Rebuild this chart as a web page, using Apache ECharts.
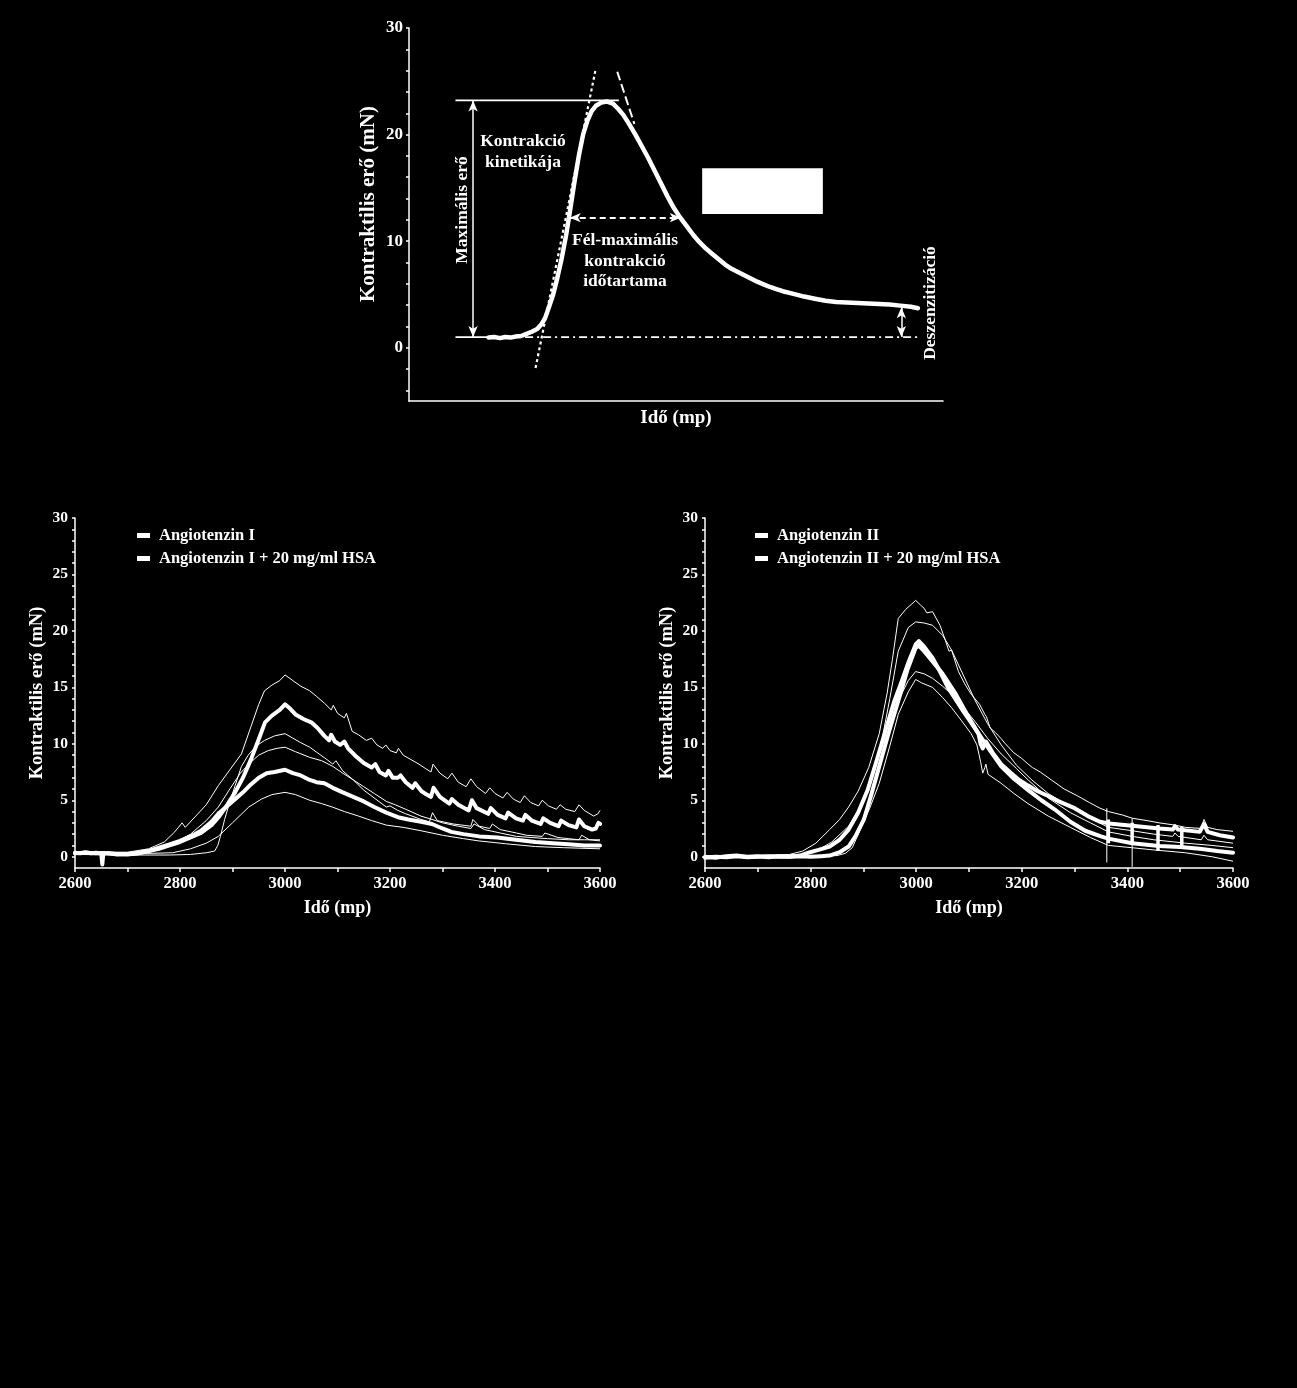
<!DOCTYPE html>
<html>
<head>
<meta charset="utf-8">
<script src="https://cdn.jsdelivr.net/npm/echarts@6/dist/echarts.min.js"></script>
<style>
html,body{margin:0;padding:0;background:#000;}
#c{width:1297px;height:1388px;}
</style>
</head>
<body>
<div id="c"></div>
<script>
// ---------------- DATA ----------------
// Top schematic curve (arbitrary time units 0..100, force in mN)
const topCurve = [[14.9,0.96],[16,1.0],[17,0.9],[18,1.0],[19,0.95],[20,1.05],[21,1.1],[22,1.3],[23,1.5],[24,1.75],[24.8,2.2],[25.5,2.8],[26.2,3.8],[27,5.0],[27.8,6.6],[28.6,8.4],[29.4,10.5],[30.2,13.0],[31,15.6],[31.8,18.0],[32.6,20.0],[33.4,21.3],[34.2,22.2],[35,22.7],[36,23.0],[37.1,23.1],[38.2,22.9],[39.2,22.4],[40.2,21.8],[41.2,21.0],[42.4,20.0],[43.6,18.9],[44.8,17.8],[46,16.6],[47.2,15.4],[48.4,14.2],[49.6,13.1],[50.8,12.2],[52,11.4],[53.2,10.6],[54.4,9.9],[55.6,9.3],[56.8,8.8],[58,8.3],[59.2,7.8],[60.4,7.4],[61.6,7.1],[62.8,6.8],[64,6.5],[65.2,6.2],[66.4,5.95],[67.6,5.7],[68.8,5.5],[70,5.3],[72,5.05],[74,4.8],[76,4.6],[78,4.4],[80,4.3],[82,4.25],[84,4.2],[86,4.15],[88,4.1],[90,4.05],[92,3.95],[94,3.85],[95.3,3.7]];
const topMaxLine = [[8.7,23.2],[39.3,23.2]];
const topBaseSolid = [[8.7,1.0],[15,1.0]];
const topBaseDashed = [[15,1.0],[95.3,1.0]];
const topRiseTangent = [[23.7,-1.9],[34.9,26.0]];
const topFallTangent = [[39.0,25.9],[42.2,21.0]];
const topMaxArrow = [[12.0,23.2],[12.0,1.0]];
const topHalfArrow = [[30.1,12.2],[50.9,12.2]];
const topDesensArrow = [[92.2,3.8],[92.2,1.0]];
const topBox = [[54.9,16.85],[77.5,12.55]];

// Tick values
const topYLabels = [0,10,20,30];
const topYTicks = [-4,-2,0,2,4,6,8,10,12,14,16,18,20,22,24,26,28,30];
const botYLabels = [0,5,10,15,20,25,30];
const botYTicks = [0,1,2,3,4,5,6,7,8,9,10,11,12,13,14,15,16,17,18,19,20,21,22,23,24,25,26,27,28,29,30];
const botXLabels = [2600,2800,3000,3200,3400,3600];
const botXTicks = [2600,2700,2800,2900,3000,3100,3200,3300,3400,3500,3600];

// Left panel: Angiotenzin I
const leftAng1Mean = [[2600,0.35],[2610,0.3],[2620,0.4],[2630,0.3],[2640,0.35],[2650,0.3],[2652,-0.7],[2654,0.3],[2665,0.3],[2680,0.2],[2700,0.25],[2720,0.3],[2740,0.5],[2760,0.7],[2780,1.0],[2800,1.3],[2820,1.7],[2840,2.1],[2860,2.8],[2875,3.6],[2890,4.6],[2905,5.7],[2920,7.0],[2935,8.6],[2950,10.4],[2962,11.9],[2975,12.5],[2990,13.0],[3000,13.5],[3010,13.1],[3020,12.6],[3035,12.2],[3050,11.9],[3062,11.4],[3075,10.7],[3084,10.3],[3088,10.8],[3095,10.2],[3105,9.9],[3113,10.2],[3120,9.6],[3135,8.9],[3150,8.3],[3165,7.9],[3172,8.2],[3180,7.5],[3192,7.2],[3197,7.6],[3205,7.0],[3215,7.0],[3220,7.2],[3230,6.6],[3243,6.1],[3248,6.5],[3260,5.8],[3270,5.5],[3278,5.3],[3283,6.1],[3295,5.3],[3313,4.7],[3318,5.1],[3330,4.6],[3350,4.1],[3356,5.0],[3365,4.3],[3387,3.8],[3392,4.3],[3405,3.7],[3420,3.4],[3425,3.9],[3440,3.4],[3453,3.2],[3458,3.7],[3470,3.2],[3487,2.9],[3492,3.4],[3505,3.0],[3521,2.7],[3526,3.2],[3540,2.8],[3555,2.6],[3560,3.3],[3570,2.7],[3585,2.4],[3592,2.5],[3597,3.0],[3600,2.9]];
const leftAng1Upper = [[2600,0.4],[2700,0.4],[2740,0.7],[2770,1.3],[2790,2.2],[2804,3.0],[2810,2.6],[2830,3.6],[2850,4.6],[2873,6.3],[2895,7.7],[2917,9.1],[2935,11.5],[2950,13.5],[2961,14.7],[2975,15.2],[2990,15.6],[3000,16.1],[3015,15.6],[3030,15.1],[3047,14.7],[3060,14.2],[3075,13.6],[3088,13.0],[3092,13.4],[3100,12.7],[3113,12.3],[3117,12.7],[3128,11.1],[3140,10.8],[3155,10.3],[3165,10.5],[3175,9.9],[3186,9.6],[3192,9.9],[3200,9.4],[3212,9.2],[3216,9.6],[3225,9.0],[3240,8.6],[3255,8.2],[3268,7.8],[3278,7.5],[3282,8.2],[3295,7.4],[3310,6.9],[3318,7.4],[3330,6.6],[3345,6.2],[3354,6.9],[3365,6.2],[3382,5.6],[3390,6.1],[3400,5.6],[3415,5.2],[3423,5.7],[3435,5.1],[3448,4.8],[3456,5.4],[3468,4.8],[3483,4.5],[3490,5.0],[3502,4.5],[3517,4.2],[3524,4.6],[3535,4.2],[3552,4.0],[3560,4.6],[3570,4.1],[3588,3.6],[3596,3.8],[3600,4.1]];
const leftAng1Lower = [[2600,0.2],[2700,0.15],[2780,0.15],[2820,0.2],[2850,0.35],[2866,0.5],[2872,1.0],[2877,1.8],[2885,3.3],[2895,4.9],[2905,6.3],[2917,8.0],[2930,9.0],[2945,9.8],[2961,10.3],[2980,10.7],[3000,10.9],[3015,10.5],[3030,10.1],[3047,9.7],[3065,9.1],[3080,8.6],[3091,8.2],[3097,8.5],[3110,7.6],[3130,6.8],[3150,5.9],[3170,5.2],[3193,4.4],[3200,4.5],[3215,4.1],[3230,3.8],[3259,3.3],[3275,3.1],[3281,3.9],[3290,3.2],[3320,2.9],[3354,2.7],[3358,3.3],[3370,2.7],[3390,2.5],[3395,2.9],[3410,2.4],[3441,2.1],[3460,1.9],[3490,1.8],[3495,2.1],[3520,1.7],[3560,1.5],[3565,1.9],[3580,1.5],[3600,1.4]];
// Left panel: Angiotenzin I + 20 mg/ml HSA
const leftHsaMean = [[2600,0.3],[2620,0.35],[2640,0.3],[2660,0.3],[2680,0.25],[2700,0.2],[2720,0.3],[2740,0.5],[2760,0.8],[2780,1.1],[2800,1.4],[2820,1.8],[2840,2.3],[2860,3.1],[2875,3.9],[2890,4.5],[2905,5.1],[2920,5.7],[2935,6.4],[2950,7.0],[2965,7.4],[2980,7.5],[3000,7.7],[3015,7.4],[3030,7.2],[3047,6.8],[3060,6.6],[3075,6.5],[3091,6.1],[3110,5.7],[3130,5.3],[3150,4.9],[3170,4.4],[3193,3.9],[3215,3.5],[3235,3.3],[3259,3.1],[3280,2.9],[3300,2.5],[3317,2.2],[3340,2.0],[3370,1.8],[3404,1.7],[3440,1.5],[3477,1.3],[3510,1.2],[3540,1.1],[3570,1.0],[3600,1.0]];
const leftHsaUpper = [[2600,0.4],[2700,0.35],[2740,0.6],[2786,1.1],[2820,2.0],[2850,3.2],[2873,4.4],[2895,6.0],[2915,7.4],[2931,8.2],[2950,9.0],[2968,9.4],[2985,9.6],[3000,9.7],[3020,9.3],[3047,8.8],[3070,8.5],[3091,8.0],[3110,7.4],[3130,6.8],[3150,6.2],[3170,5.6],[3193,4.9],[3210,4.6],[3230,4.2],[3259,3.6],[3280,3.3],[3300,3.0],[3330,2.7],[3354,2.5],[3360,2.9],[3380,2.4],[3410,2.1],[3441,1.8],[3470,1.7],[3500,1.6],[3540,1.5],[3570,1.5],[3600,1.5]];
const leftHsaLower = [[2600,0.3],[2700,0.25],[2786,0.35],[2820,0.7],[2850,1.2],[2873,1.8],[2900,3.0],[2931,4.4],[2955,5.1],[2975,5.5],[3000,5.7],[3020,5.5],[3047,5.0],[3070,4.7],[3090,4.4],[3113,4.0],[3140,3.6],[3165,3.2],[3193,2.8],[3225,2.6],[3259,2.3],[3300,1.9],[3340,1.6],[3369,1.4],[3420,1.15],[3477,0.9],[3530,0.8],[3600,0.7]];

// Right panel: Angiotenzin II
const rightAng2Mean = [[2600,0.0],[2620,-0.1],[2640,0.05],[2660,0.1],[2680,0.0],[2700,0.05],[2720,-0.05],[2740,0.05],[2760,0.0],[2780,0.1],[2799,0.4],[2815,0.6],[2836,0.9],[2855,1.5],[2872,2.4],[2890,3.9],[2908,5.9],[2925,8.5],[2944,11.5],[2958,13.7],[2973,15.6],[2986,17.3],[2999,18.8],[3005,19.1],[3015,18.6],[3031,17.6],[3045,16.4],[3060,15.0],[3075,13.9],[3089,12.9],[3105,11.8],[3118,10.9],[3122,10.0],[3126,9.6],[3132,10.2],[3145,9.2],[3161,8.2],[3180,7.4],[3195,6.8],[3212,6.3],[3230,5.8],[3249,5.4],[3270,4.9],[3300,4.3],[3325,3.6],[3348,3.1],[3365,2.95],[3409,2.75],[3460,2.5],[3486,2.4],[3490,2.7],[3496,2.4],[3537,2.2],[3545,2.9],[3552,2.2],[3575,1.9],[3600,1.7]];
// Right panel: Angiotenzin II + 20 mg/ml HSA
const rightHsaMean = [[2600,-0.1],[2620,0.0],[2640,-0.05],[2660,0.05],[2680,-0.05],[2700,0.0],[2720,0.05],[2740,0.0],[2760,0.0],[2780,0.05],[2800,0.0],[2820,0.05],[2836,0.1],[2855,0.4],[2872,0.9],[2886,1.9],[2901,3.3],[2915,5.5],[2930,8.0],[2948,11.0],[2966,13.8],[2983,16.5],[2999,18.5],[3005,18.7],[3015,18.2],[3031,17.3],[3050,16.2],[3075,14.4],[3095,12.7],[3118,10.9],[3140,9.4],[3161,8.0],[3185,6.9],[3212,5.9],[3237,5.0],[3262,4.2],[3292,3.1],[3320,2.3],[3350,1.8],[3364,1.6],[3409,1.2],[3460,0.95],[3500,0.85],[3537,0.7],[3570,0.5],[3600,0.35]];
// Right panel: thin (SEM) traces
const rightTrace1 = [[2600,0.1],[2700,0.1],[2760,0.2],[2785,0.5],[2810,1.2],[2836,2.4],[2855,3.3],[2872,4.4],[2890,5.8],[2910,7.9],[2930,10.9],[2945,14.5],[2955,17.5],[2966,21.1],[2980,21.9],[2992,22.4],[2999,22.7],[3008,22.3],[3015,22.0],[3020,21.6],[3031,21.7],[3045,20.5],[3055,19.2],[3062,18.2],[3067,18.3],[3080,16.4],[3092,15.3],[3104,14.4],[3120,13.5],[3130,12.6],[3133,12.4],[3140,11.4],[3150,11.0],[3160,10.5],[3169,10.0],[3185,9.2],[3200,8.7],[3212,8.2],[3220,7.9],[3235,7.5],[3256,6.8],[3280,6.0],[3305,5.4],[3328,4.8],[3348,4.3],[3364,4.0],[3390,3.7],[3410,3.4],[3437,3.2],[3460,3.0],[3490,2.8],[3510,2.6],[3540,2.5],[3545,3.3],[3552,2.6],[3570,2.4],[3600,2.25]];
const rightTrace2 = [[2600,0.0],[2700,0.0],[2780,0.2],[2814,0.6],[2840,1.3],[2872,2.7],[2900,4.9],[2930,9.1],[2950,14.0],[2966,18.2],[2985,20.3],[2999,20.8],[3015,20.7],[3031,20.5],[3050,19.6],[3067,18.3],[3090,16.0],[3111,13.9],[3135,11.8],[3161,9.9],[3190,8.1],[3219,6.8],[3250,5.6],[3292,4.4],[3330,3.4],[3364,2.6],[3409,2.3],[3450,2.0],[3486,1.8],[3490,2.1],[3496,1.8],[3540,1.5],[3545,1.9],[3552,1.5],[3600,1.2]];
const rightTrace3 = [[2600,0.0],[2700,0.0],[2800,0.05],[2843,0.2],[2865,0.6],[2879,1.2],[2895,2.8],[2912,5.2],[2930,8.0],[2950,11.3],[2966,13.8],[2985,15.6],[2999,16.4],[3015,16.2],[3031,15.8],[3050,15.1],[3067,14.4],[3090,13.2],[3111,12.0],[3135,10.5],[3161,9.1],[3190,7.8],[3212,6.8],[3250,5.2],[3292,3.9],[3330,3.0],[3364,2.2],[3409,1.8],[3450,1.5],[3510,1.2],[3560,1.0],[3600,0.8]];
const rightTrace4 = [[2600,0.0],[2700,-0.05],[2800,0.0],[2850,0.1],[2866,0.3],[2879,0.8],[2895,2.5],[2912,4.3],[2930,6.5],[2950,9.8],[2966,12.6],[2985,14.6],[2999,15.7],[3010,15.4],[3031,15.0],[3050,14.1],[3067,13.2],[3085,12.1],[3104,10.9],[3115,9.9],[3122,8.4],[3126,7.4],[3130,7.9],[3132,8.2],[3136,7.3],[3161,6.5],[3185,5.6],[3212,4.7],[3250,3.6],[3292,2.6],[3330,1.7],[3364,1.0],[3408,0.8],[3450,0.6],[3510,0.35],[3560,0.0],[3600,-0.4]];
// Right panel: thin vertical markers [x, top, bottom] and error bars [x, high, low]
const rightMarkerLines = [[3361,4.3,-0.5],[3409,3.4,-0.9]];
const rightErrorBars = [[3364,3.3,1.2],[3409,3.0,1.1],[3458,2.8,0.5],[3503,2.65,0.9]];

// ---------------- CHART ----------------
const FONT = "'Liberation Serif','Times New Roman',serif";
const W = '#ffffff';
const chart = echarts.init(document.getElementById('c'), null, {renderer:'canvas'});
const plain = v => String(v);

function thin(name, data, xi){ return {type:'line', name:name, xAxisIndex:xi, yAxisIndex:xi, data:data, symbol:'none', silent:true,
  lineStyle:{color:W, width:1}, z:2}; }
function thick(name, data, xi){ return {type:'line', name:name, xAxisIndex:xi, yAxisIndex:xi, data:data, symbol:'none', silent:true,
  itemStyle:{color:W}, lineStyle:{color:W, width:4, join:'round', cap:'round'}, z:3}; }
function seg(data, width, type, xi){ return {type:'line', xAxisIndex:xi, yAxisIndex:xi, data:data, symbol:'none', silent:true,
  lineStyle:{color:W, width:width, type:type}, z:4}; }
function arrow(pts, type, width){ return [{coord:pts[0], lineStyle:{type:type, width:width, color:W}}, {coord:pts[1]}]; }

function botX(gi){ return {type:'value', gridIndex:gi, min:2600, max:3600, name:'Idő (mp)', nameLocation:'middle', nameGap:31,
  nameTextStyle:{color:W, fontFamily:FONT, fontWeight:'bold', fontSize:18},
  axisLine:{onZero:false, lineStyle:{color:W, width:1.5}}, splitLine:{show:false},
  axisTick:{customValues:botXTicks, length:4, lineStyle:{color:W, width:1.5}},
  axisLabel:{customValues:botXLabels, formatter:plain, color:W, fontFamily:FONT, fontWeight:'bold', fontSize:16.6, margin:7}}; }
function botY(gi){ return {type:'value', gridIndex:gi, min:-1, max:30, name:'Kontraktilis erő (mN)', nameLocation:'middle', nameGap:28, nameRotate:90,
  nameTextStyle:{color:W, fontFamily:FONT, fontWeight:'bold', fontSize:18.5},
  axisLine:{show:true, onZero:false, lineStyle:{color:W, width:1.5}}, splitLine:{show:false},
  axisTick:{customValues:botYTicks, length:3, lineStyle:{color:W, width:1.5}},
  axisLabel:{customValues:botYLabels, formatter:plain, color:W, fontFamily:FONT, fontWeight:'bold', fontSize:15.5, margin:7}}; }

const series = [];
// top panel (axis index 0)
series.push({type:'line', xAxisIndex:0, yAxisIndex:0, data:topCurve, symbol:'none', silent:true,
  lineStyle:{color:W, width:4.5, join:'round', cap:'round'}, z:5});
series.push(Object.assign(seg(topMaxLine,1.8,'solid',0), {
  markLine:{silent:true, symbol:['arrow','arrow'], symbolSize:[7,11], label:{show:false},
    lineStyle:{color:W}, data:[arrow(topMaxArrow,'solid',1.5), arrow(topHalfArrow,[6,4],2), arrow(topDesensArrow,'solid',1.5)]},
  markArea:{silent:true, itemStyle:{color:W, opacity:1}, label:{show:false},
    data:[[{coord:topBox[0]},{coord:topBox[1]}]]}}));
series.push(seg(topBaseSolid,1.8,'solid',0));
series.push(seg(topBaseDashed,1.8,[8,4,2,4],0));
series.push(seg(topRiseTangent,2.2,[3,3],0));
series.push(seg(topFallTangent,2,[9,4],0));
// left panel (axis index 1)
series.push(thin('', leftAng1Upper, 1));
series.push(thin('', leftAng1Lower, 1));
series.push(thin('', leftHsaUpper, 1));
series.push(thin('', leftHsaLower, 1));
series.push(thick('Angiotenzin I', leftAng1Mean, 1));
series.push(thick('Angiotenzin I + 20 mg/ml HSA', leftHsaMean, 1));
// right panel (axis index 2)
series.push(thin('', rightTrace1, 2));
series.push(thin('', rightTrace2, 2));
series.push(thin('', rightTrace3, 2));
series.push(thin('', rightTrace4, 2));
rightMarkerLines.forEach(m => series.push(seg([[m[0],m[1]],[m[0],m[2]]],1,'solid',2)));
series.push(thick('Angiotenzin II', rightAng2Mean, 2));
series.push(thick('Angiotenzin II + 20 mg/ml HSA', rightHsaMean, 2));
rightErrorBars.forEach(e => series.push(seg([[e[0],e[1]],[e[0],e[2]]],3.5,'solid',2)));

const legTxt = {color:W, fontFamily:FONT, fontWeight:'bold', fontSize:16.5, padding:[0,0,0,4]};
const txt = (t,x,y,rot,size) => ({type:'text', x:x, y:y, rotation:rot||0, silent:true,
  style:{text:t, fill:W, font:'bold '+(size||17.5)+'px '+FONT, textAlign:'center', textVerticalAlign:'middle'}});

chart.setOption({
  backgroundColor:'#000',
  animation:false,
  grid:[
    {left:409, top:28, width:534, height:373},
    {left:75, top:518, width:525, height:350},
    {left:705, top:518, width:528, height:350}
  ],
  xAxis:[
    {type:'value', gridIndex:0, min:0, max:100, name:'Idő (mp)', nameLocation:'middle', nameGap:8,
      nameTextStyle:{color:W, fontFamily:FONT, fontWeight:'bold', fontSize:19, verticalAlign:'top'},
      axisLine:{onZero:false, lineStyle:{color:W, width:1.5}}, axisTick:{show:false}, axisLabel:{show:false}, splitLine:{show:false}},
    botX(1), botX(2)
  ],
  yAxis:[
    {type:'value', gridIndex:0, min:-5, max:30, name:'', 
      axisLine:{show:true, onZero:false, lineStyle:{color:W, width:1.5}}, splitLine:{show:false},
      axisTick:{customValues:topYTicks, length:3, lineStyle:{color:W, width:1.5}},
      axisLabel:{customValues:topYLabels, formatter:plain, color:W, fontFamily:FONT, fontWeight:'bold', fontSize:17, margin:6}},
    botY(1), botY(2)
  ],
  legend:[
    {data:['Angiotenzin I','Angiotenzin I + 20 mg/ml HSA'], orient:'vertical', left:137, top:527, padding:0, itemGap:6,
      icon:'rect', itemWidth:13, itemHeight:5, textStyle:legTxt, selectedMode:false},
    {data:['Angiotenzin II','Angiotenzin II + 20 mg/ml HSA'], orient:'vertical', left:755, top:527, padding:0, itemGap:6,
      icon:'rect', itemWidth:13, itemHeight:5, textStyle:legTxt, selectedMode:false}
  ],
  graphic:[
    txt('Kontraktilis erő (mN)', 369, 204, Math.PI/2, 21),
    txt('Maximális erő', 462, 210, Math.PI/2),
    txt('Kontrakció', 523, 141),
    txt('kinetikája', 523, 162),
    txt('Fél-maximális', 625, 240),
    txt('kontrakció', 625, 261),
    txt('időtartama', 625, 281),
    txt('Deszenzitizáció', 930, 303, Math.PI/2)
  ],
  series: series
});
</script>
</body>
</html>
